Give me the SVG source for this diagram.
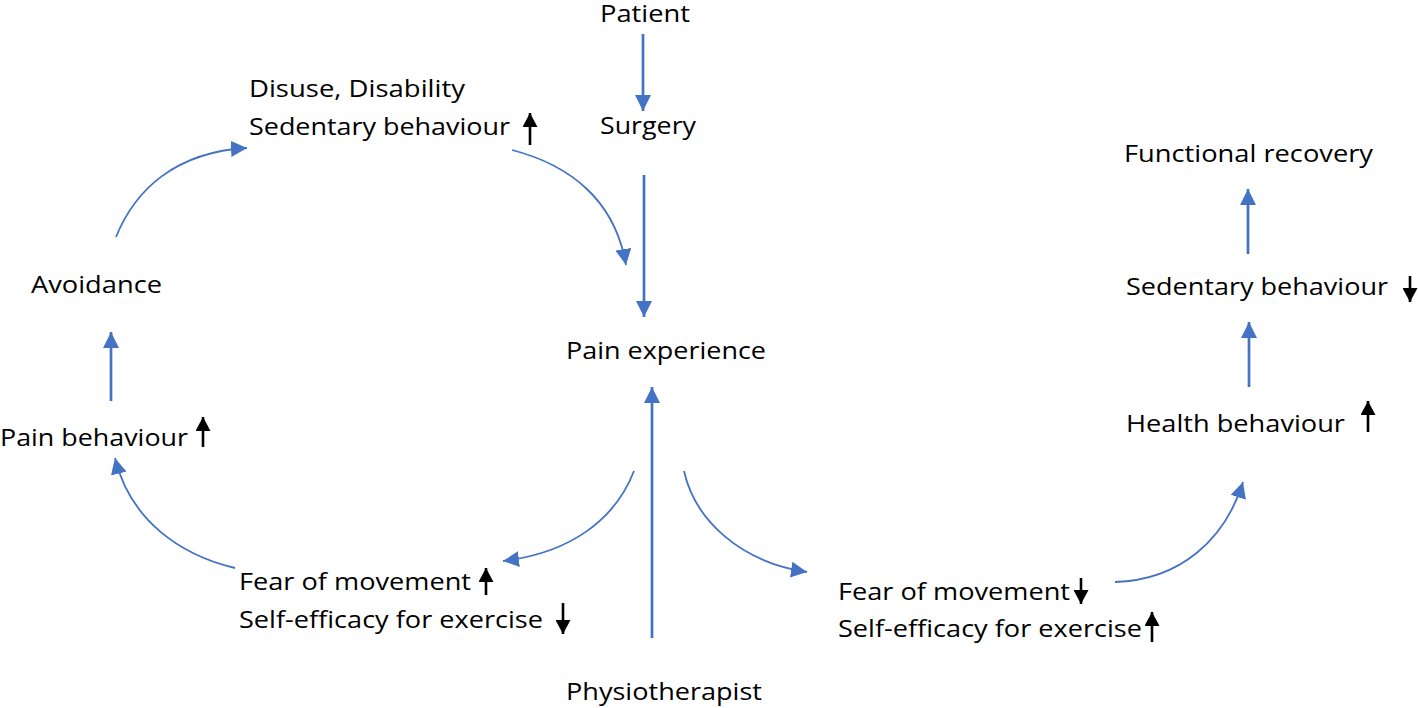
<svg xmlns="http://www.w3.org/2000/svg" width="1418" height="708" viewBox="0 0 1418 708">
<style>
text{font-family:"Open Sans","Liberation Sans",sans-serif;font-size:24px;fill:#000}
.b{fill:none;stroke:#4472C4;stroke-width:2.7}
.c{fill:none;stroke:#4472C4;stroke-width:1.8}
.k{fill:none;stroke:#000;stroke-width:2.6}
</style>
<defs>
<marker id="ab" viewBox="0 0 16 16" refX="16" refY="8" markerWidth="16" markerHeight="16" markerUnits="userSpaceOnUse" orient="auto"><path d="M0,0L16,8L0,16z" fill="#4472C4"/></marker>
<marker id="ak" viewBox="0 0 14 15" refX="14" refY="7.5" markerWidth="14" markerHeight="15" markerUnits="userSpaceOnUse" orient="auto"><path d="M0,0L14,7.5L0,15z" fill="#000"/></marker>
</defs>
<rect width="1418" height="708" fill="#fff"/>
<g id="connectors">
<line class="b" x1="643" y1="34" x2="643" y2="111" marker-end="url(#ab)"/>
<line class="b" x1="644" y1="175" x2="644" y2="317" marker-end="url(#ab)"/>
<line class="b" x1="652" y1="638" x2="652" y2="387" marker-end="url(#ab)"/>
<line class="b" x1="111" y1="401" x2="111" y2="332" marker-end="url(#ab)"/>
<line class="b" x1="1249" y1="387" x2="1249" y2="322" marker-end="url(#ab)"/>
<line class="b" x1="1248" y1="254" x2="1248" y2="189" marker-end="url(#ab)"/>
<path class="c" d="M116,237 C135,190 175,152 247,148" marker-end="url(#ab)"/>
<path class="c" d="M512,150 C570,165 615,200 626,265" marker-end="url(#ab)"/>
<path class="c" d="M634,471 C615,520 570,553 503,561" marker-end="url(#ab)"/>
<path class="c" d="M684,471 C695,520 740,562 807,572" marker-end="url(#ab)"/>
<path class="c" d="M235,568 C180,555 130,520 115,458" marker-end="url(#ab)"/>
<path class="c" d="M1115,582 C1180,580 1225,540 1243,482" marker-end="url(#ab)"/>
</g>
<g id="patient"><text x="600" y="22" textLength="90" lengthAdjust="spacingAndGlyphs">Patient</text></g>
<g id="surgery"><text x="600" y="134" textLength="96" lengthAdjust="spacingAndGlyphs">Surgery</text></g>
<g id="pain-experience"><text x="566" y="359" textLength="200" lengthAdjust="spacingAndGlyphs">Pain experience</text></g>
<g id="physiotherapist"><text x="566" y="700" textLength="196" lengthAdjust="spacingAndGlyphs">Physiotherapist</text></g>
<g id="disuse">
<text x="249" y="97" textLength="216" lengthAdjust="spacingAndGlyphs">Disuse, Disability</text>
<text x="249" y="135" textLength="261" lengthAdjust="spacingAndGlyphs">Sedentary behaviour</text>
<line class="k" x1="530" y1="145" x2="530" y2="113" marker-end="url(#ak)"/>
</g>
<g id="avoidance"><text x="31" y="293" textLength="131" lengthAdjust="spacingAndGlyphs">Avoidance</text></g>
<g id="pain-behaviour">
<text x="0" y="446" textLength="188" lengthAdjust="spacingAndGlyphs">Pain behaviour</text>
<line class="k" x1="203" y1="447" x2="203" y2="417" marker-end="url(#ak)"/>
</g>
<g id="fear-left">
<text x="239" y="590" textLength="232" lengthAdjust="spacingAndGlyphs">Fear of movement</text>
<text x="239" y="628" textLength="304" lengthAdjust="spacingAndGlyphs">Self-efficacy for exercise</text>
<line class="k" x1="486" y1="595" x2="486" y2="568" marker-end="url(#ak)"/>
<line class="k" x1="563" y1="603" x2="563" y2="634" marker-end="url(#ak)"/>
</g>
<g id="fear-right">
<text x="838" y="600" textLength="232" lengthAdjust="spacingAndGlyphs">Fear of movement</text>
<text x="838" y="637" textLength="304" lengthAdjust="spacingAndGlyphs">Self-efficacy for exercise</text>
<line class="k" x1="1081" y1="578" x2="1081" y2="604" marker-end="url(#ak)"/>
<line class="k" x1="1152" y1="642" x2="1152" y2="612" marker-end="url(#ak)"/>
</g>
<g id="health-behaviour">
<text x="1126" y="432" textLength="219" lengthAdjust="spacingAndGlyphs">Health behaviour</text>
<line class="k" x1="1368" y1="432" x2="1368" y2="401" marker-end="url(#ak)"/>
</g>
<g id="sedentary-right">
<text x="1126" y="295" textLength="262" lengthAdjust="spacingAndGlyphs">Sedentary behaviour</text>
<line class="k" x1="1410" y1="276" x2="1410" y2="302" marker-end="url(#ak)"/>
</g>
<g id="functional-recovery"><text x="1124" y="162" textLength="249" lengthAdjust="spacingAndGlyphs">Functional recovery</text></g>
</svg>
